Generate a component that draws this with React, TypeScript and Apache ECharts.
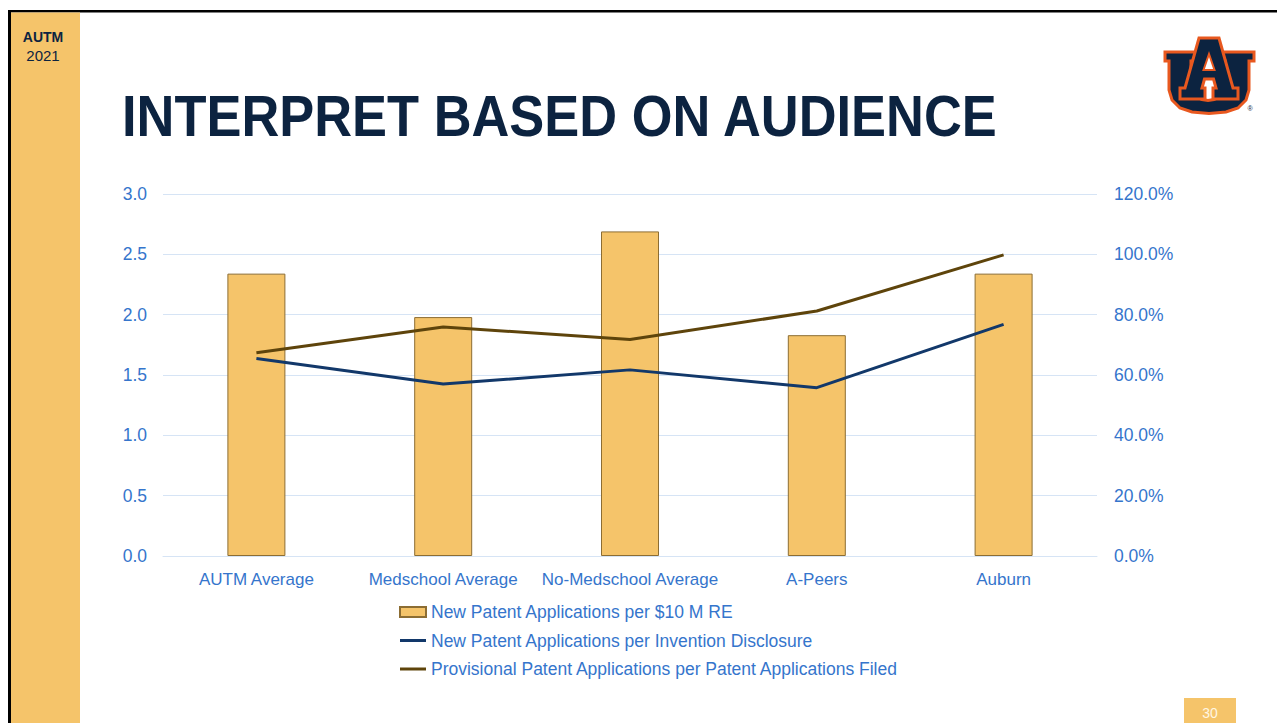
import React, { useEffect, useRef } from "react";
import * as echarts from "echarts";

const categories = ["AUTM Average", "Medschool Average", "No-Medschool Average", "A-Peers", "Auburn"];
const patentsPer10M = [2.34, 1.98, 2.69, 1.83, 2.34];
const perDisclosurePct = [65.5, 57.0, 61.7, 55.8, 76.8];
const provisionalPct = [67.4, 75.9, 71.8, 81.2, 99.8];
const leftTicks = { min: 0, max: 3, interval: 0.5 };
const rightTicks = { min: 0, max: 120, interval: 20 };
const seriesNames = [
  "New Patent Applications per $10 M RE",
  "New Patent Applications per Invention Disclosure",
  "Provisional Patent Applications per Patent Applications Filed",
];

const NAVY = "#0C2340";
const ORANGE_LOGO = "#E8581F";
const GOLD = "#F5C46A";
const BLUE_TEXT = "#3575CC";
const FONT = "'Liberation Sans', Arial, sans-serif";
const LINE_ICON = "path://M0,0H26V3H0Z";

export default function App() {
  const ref = useRef<HTMLDivElement>(null);
  useEffect(() => {
    if (!ref.current) return;
    const chart = echarts.init(ref.current, null, { renderer: "svg" });
    const logoStyle = { fill: NAVY, stroke: ORANGE_LOGO, lineWidth: 3, lineJoin: "miter" };
    chart.setOption({
      animation: false,
      backgroundColor: "#ffffff",
      textStyle: { fontFamily: FONT },
      grid: { left: 163, right: 180, top: 194, bottom: 167 },
      legend: {
        orient: "vertical",
        left: 399,
        top: 603,
        padding: 0,
        itemWidth: 26,
        itemHeight: 10,
        itemGap: 10.5,
        symbolKeepAspect: true,
        textStyle: { color: BLUE_TEXT, fontSize: 17.5, lineHeight: 18, fontFamily: FONT },
        data: [
          { name: seriesNames[0], icon: "rect" },
          { name: seriesNames[1], icon: LINE_ICON },
          { name: seriesNames[2], icon: LINE_ICON },
        ],
      },
      xAxis: {
        type: "category",
        data: categories,
        axisLine: { show: true, lineStyle: { color: "#D6E4F5", width: 1 } },
        axisTick: { show: false },
        axisLabel: { color: BLUE_TEXT, fontSize: 17, margin: 15, interval: 0, fontFamily: FONT },
      },
      yAxis: [
        {
          type: "value",
          min: leftTicks.min,
          max: leftTicks.max,
          interval: leftTicks.interval,
          axisLine: { show: false },
          axisTick: { show: false },
          splitLine: { lineStyle: { color: "#D6E4F5", width: 1 } },
          axisLabel: {
            color: BLUE_TEXT,
            fontSize: 17.5,
            margin: 16,
            fontFamily: FONT,
            formatter: (v: number) => v.toFixed(1),
          },
        },
        {
          type: "value",
          position: "right",
          min: rightTicks.min,
          max: rightTicks.max,
          interval: rightTicks.interval,
          axisLine: { show: false },
          axisTick: { show: false },
          splitLine: { show: false },
          axisLabel: {
            color: BLUE_TEXT,
            fontSize: 17.5,
            margin: 17,
            fontFamily: FONT,
            formatter: (v: number) => v.toFixed(1) + "%",
          },
        },
      ],
      series: [
        {
          name: seriesNames[0],
          type: "bar",
          yAxisIndex: 0,
          barWidth: 58,
          data: patentsPer10M,
          itemStyle: { color: GOLD, borderColor: "#8C6D33", borderWidth: 1 },
        },
        {
          name: seriesNames[1],
          type: "line",
          yAxisIndex: 1,
          symbol: "none",
          data: perDisclosurePct,
          lineStyle: { color: "#12386A", width: 3 },
          itemStyle: { color: "#12386A" },
        },
        {
          name: seriesNames[2],
          type: "line",
          yAxisIndex: 1,
          symbol: "none",
          data: provisionalPct,
          lineStyle: { color: "#5E440B", width: 3 },
          itemStyle: { color: "#5E440B" },
        },
      ],
      graphic: [
        { type: "rect", shape: { x: 8, y: 10, width: 1269, height: 2.5 }, style: { fill: "#000" } },
        { type: "rect", shape: { x: 8, y: 10, width: 3, height: 713 }, style: { fill: "#000" } },
        { type: "rect", shape: { x: 11, y: 12.5, width: 69, height: 711 }, style: { fill: GOLD } },
        {
          type: "text",
          x: 43,
          y: 37,
          style: { text: "AUTM", fill: NAVY, font: `bold 14px ${FONT}`, align: "center", verticalAlign: "middle" },
        },
        {
          type: "text",
          x: 43,
          y: 55,
          style: { text: "2021", fill: NAVY, font: `15px ${FONT}`, align: "center", verticalAlign: "middle" },
        },
        {
          type: "text",
          x: 122,
          y: 116,
          scaleX: 0.92,
          style: {
            text: "INTERPRET BASED ON AUDIENCE",
            fill: NAVY,
            font: `bold 57px ${FONT}`,
            align: "left",
            verticalAlign: "middle",
          },
        },
        {
          type: "polygon",
          shape: {
            points: [
              [1165, 52], [1196, 52], [1196, 61], [1191, 61], [1191, 90],
              [1195, 96], [1202, 99.5], [1208, 100.5], [1214, 99.5], [1221, 96], [1225, 90],
              [1225, 61], [1221, 61], [1221, 52], [1254, 52], [1254, 61], [1249, 61], [1249, 90],
              [1246, 100], [1238, 108], [1226, 112], [1209, 113.5], [1192, 112], [1180, 108],
              [1172, 100], [1169, 90], [1169, 61], [1165, 61],
            ],
          },
          style: logoStyle,
        },
        {
          type: "polygon",
          shape: {
            points: [
              [1199, 38], [1219, 38], [1233, 88], [1238, 88], [1238, 99], [1213, 99], [1213, 88],
              [1216, 88], [1213.5, 79], [1204.5, 79], [1202, 88], [1205, 88], [1205, 99],
              [1180, 99], [1180, 88], [1185, 88],
            ],
          },
          style: logoStyle,
        },
        {
          type: "polygon",
          shape: { points: [[1209, 54], [1214.5, 70], [1203.5, 70]] },
          style: { fill: "#ffffff", stroke: ORANGE_LOGO, lineWidth: 2 },
        },
        {
          type: "text",
          x: 1250,
          y: 108,
          style: { text: "®", fill: NAVY, font: `7px ${FONT}`, align: "center", verticalAlign: "middle" },
        },
        { type: "rect", shape: { x: 1184, y: 698, width: 52, height: 25 }, style: { fill: GOLD } },
        {
          type: "text",
          x: 1210,
          y: 713,
          style: { text: "30", fill: "#FFF6E2", font: `14px ${FONT}`, align: "center", verticalAlign: "middle" },
        },
      ],
    });
    return () => chart.dispose();
  }, []);
  return (
    <div
      ref={ref}
      style={{ position: "fixed", left: 0, top: 0, width: 1277, height: 723, background: "#fff" }}
    />
  );
}
